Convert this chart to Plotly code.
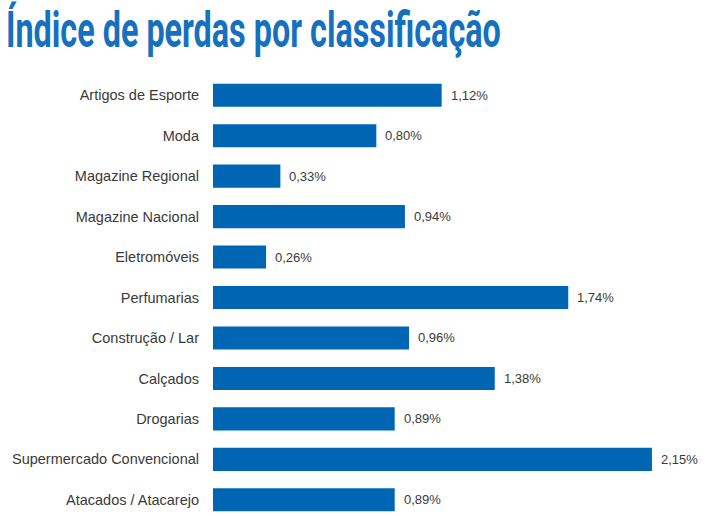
import plotly.graph_objects as go

title = "Índice de perdas por classificação"
categories = [
    "Artigos de Esporte", "Moda", "Magazine Regional", "Magazine Nacional",
    "Eletromóveis", "Perfumarias", "Construção / Lar", "Calçados",
    "Drogarias", "Supermercado Convencional", "Atacados / Atacarejo",
]
values = [1.12, 0.80, 0.33, 0.94, 0.26, 1.74, 0.96, 1.38, 0.89, 2.15, 0.89]
value_labels = [f"{v:.2f}".replace(".", ",") + "%" for v in values]

BAR = "#0066b3"
TXT = "#3a3a3a"

fig = go.Figure(go.Bar(
    x=values, y=categories, orientation="h",
    marker=dict(color=BAR, line=dict(width=0)),
    width=0.57, hoverinfo="skip",
))

for c, v, t in zip(categories, values, value_labels):
    fig.add_annotation(x=v, y=c, text=t, xanchor="left", yanchor="middle",
                       xshift=7, showarrow=False,
                       font=dict(family="Liberation Sans, Arial, sans-serif", size=13, color=TXT))

fig.update_layout(
    width=709, height=516,
    margin=dict(l=213, r=6, t=75, b=0),
    paper_bgcolor="white", plot_bgcolor="white",
    showlegend=False,
    title=dict(text=title, xref="container", yref="container",
               x=0.008, y=0.97, xanchor="left", yanchor="top",
               font=dict(family="Roboto, sans-serif",
                         size=27, color="#1570bf", weight="bold")),
    xaxis=dict(range=[0, 2.4], visible=False, fixedrange=True),
    yaxis=dict(categoryorder="array", categoryarray=categories,
               range=[10.4, -0.5], showgrid=False, zeroline=False, showline=False,
               ticks="", ticklabelstandoff=13,
               tickfont=dict(family="Liberation Sans, Arial, sans-serif", size=14.5, color=TXT)),
)

post = """
document.body.style.margin = '0';
var t = document.querySelector('.gtitle');
if (t) {
  var x0 = 6, yb = 47;
  t.removeAttribute('dy');
  t.querySelectorAll('tspan').forEach(function (s) { s.removeAttribute('dy'); s.removeAttribute('y'); });
  t.setAttribute('x', x0);
  t.setAttribute('y', yb);
  var bb = t.getBBox();
  var sx = 495 / bb.width;
  var sy = 36 / (27 * 0.711);
  t.setAttribute('transform', 'translate(' + x0 + ',' + yb + ') scale(' + sx + ',' + sy + ') translate(' + (-x0) + ',' + (-yb) + ')');
}
"""

fig.write_html("out.html", post_script=post, config={"displayModeBar": False})
